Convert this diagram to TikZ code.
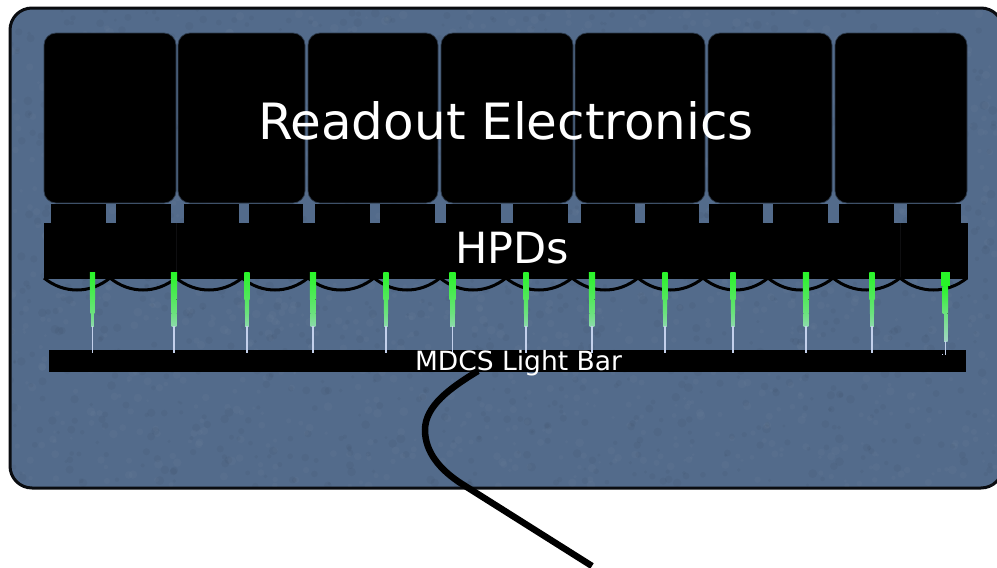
\documentclass[tikz,border=0pt]{standalone}
\usepackage{fontspec}
\setmainfont{DejaVu Sans}
\definecolor{panel}{RGB}{83,107,139}
\definecolor{panelline}{RGB}{10,12,16}
\definecolor{greentop}{RGB}{40,245,40}
\definecolor{greenlow}{RGB}{85,232,95}
\definecolor{greenmid}{RGB}{140,218,170}
\definecolor{needle}{RGB}{195,208,235}
\definecolor{seam}{RGB}{14,14,16}
\tikzset{
  x=1pt,y=-1pt,
  panelbox/.style={draw=panelline,line width=3pt,fill=panel,rounded corners=22pt},
  solid block/.style={fill=black},
  cable/.style={draw=black,line width=6.5pt},
  scallop/.style={draw=black,line width=3pt},
  label/.style={text=white,inner sep=0pt,anchor=center},
}
\newcommand{\modbox}[3]{\filldraw[fill=black,draw=panel!55!black,line width=.7pt,rounded corners=12pt] (#1,33) rectangle (#2,203);\coordinate (#3) at (#1,33);}
\newcommand{\tabbox}[2]{\fill[solid block] (#1,204) rectangle (#2,224);}
% x, half widths of the three tapered sections
\newcommand{\fibrepath}[4]{%
  \fill[top color=greentop,bottom color=greenlow] (#1-#2,272) rectangle (#1+#2,299);
  \fill[top color=greenlow,bottom color=greenlow!60!greenmid] (#1-#3,299) rectangle (#1+#3,313);
  \fill[top color=greenlow!60!greenmid,bottom color=greenmid] (#1-#4,313) rectangle (#1+#4,326);
  \fill[needle] (#1-.7,326) rectangle (#1+.7,353);
}
\begin{document}
\begin{tikzpicture}
\useasboundingbox (0,0) rectangle (997,568);
\draw[panelbox] (10,8) rectangle (1003,488);
% subtle mottling of the panel
\begin{scope}
  \clip (12,10) rectangle (997,486);
  \pgfmathsetseed{7}
  \foreach \i in {1,...,2600}{
    \pgfmathsetmacro{\px}{10+rnd*987}
    \pgfmathsetmacro{\py}{10+rnd*476}
    \pgfmathsetmacro{\pw}{1.5+rnd*3}
    \pgfmathparse{rnd>0.5?1:0}
    \ifnum\pgfmathresult=1
      \fill[white,opacity=.025] (\px,\py) circle (\pw);
    \else
      \fill[black,opacity=.035] (\px,\py) circle (\pw);
    \fi
  }
\end{scope}
% modules
\modbox{44}{176}{m1}
\modbox{178}{305}{m2}
\modbox{308}{438}{m3}
\modbox{441}{573}{m4}
\modbox{575}{705}{m5}
\modbox{708}{832}{m6}
\modbox{835}{967}{m7}
% tabs
\tabbox{51}{106}\tabbox{116}{171}\tabbox{184}{239}\tabbox{249}{303}
\tabbox{315}{370}\tabbox{380}{435}\tabbox{446}{501}\tabbox{513}{568}
\tabbox{581}{635}\tabbox{645}{699}\tabbox{709}{763}\tabbox{773}{828}
\tabbox{839}{894}\tabbox{907}{961}
% HPD bar
\fill[solid block] (44,223) rectangle (968,279);
\draw[seam,line width=.6pt] (176,223) -- (176,272);
\draw[seam,line width=.6pt] (900,223) -- (900,279);
\foreach \a/\b in {44/110,110/176,176/242,242/308,308/374,374/440,440/506,506/572,572/638,638/703,703/768,768/833,833/900,900/967}
  \draw[scallop] (\a,278) .. controls ({\a+(\b-\a)*.3},294) and ({\a+(\b-\a)*.7},294) .. (\b,278);
% light bar
\fill[solid block] (49,350) rectangle (966,372);
% fibres
\foreach \x/\w/\u/\v in {92.5/2.7/1.9/1.3,174/3.2/2.5/2.3,247/2.7/2.1/1.8,313/3.2/2.5/2.3,386/2.7/2.1/1.8,452.5/3.2/2.5/2.3,526/2.7/2.1/1.8,592/3.2/2.5/2.3,665/2.7/2.1/1.8,733/2.7/2.1/1.8,806/3.2/2.5/2.3,872/2.7/2.1/1.8}
  \fibrepath{\x}{\w}{\u}{\v}
\fill[greentop] (941,272) rectangle (950,286);
\fill[top color=greentop,bottom color=greenlow!60!greenmid] (942.5,286) rectangle (948,313);
\fill[top color=greenlow!60!greenmid,bottom color=greenmid!60!needle] (944,313) rectangle (947.5,341);
\fill[needle] (945,341) rectangle (946.3,355);
\fill[needle] (941.5,353.5) rectangle (942.5,354.5);
% cable
\coordinate (c0) at (478,371);
\coordinate (c1) at (425,430);
\coordinate (c2) at (462,484);
\coordinate (c3) at (592,566);
\draw[cable] (c0) .. controls (450,388) and (425,406) .. (c1)
  .. controls (425,452) and (440,470) .. (c2) -- (c3);
% labels
\node[label,font=\fontsize{50}{60}\selectfont] (ro) at (506,121) {Readout Electronics};
\node[label,font=\fontsize{43}{50}\selectfont] (hpd) at (512,248) {HPDs};
\node[label,font=\fontsize{26.5}{30}\selectfont] (mdcs) at (518.5,363) {MDCS Light Bar};
\end{tikzpicture}
\end{document}
